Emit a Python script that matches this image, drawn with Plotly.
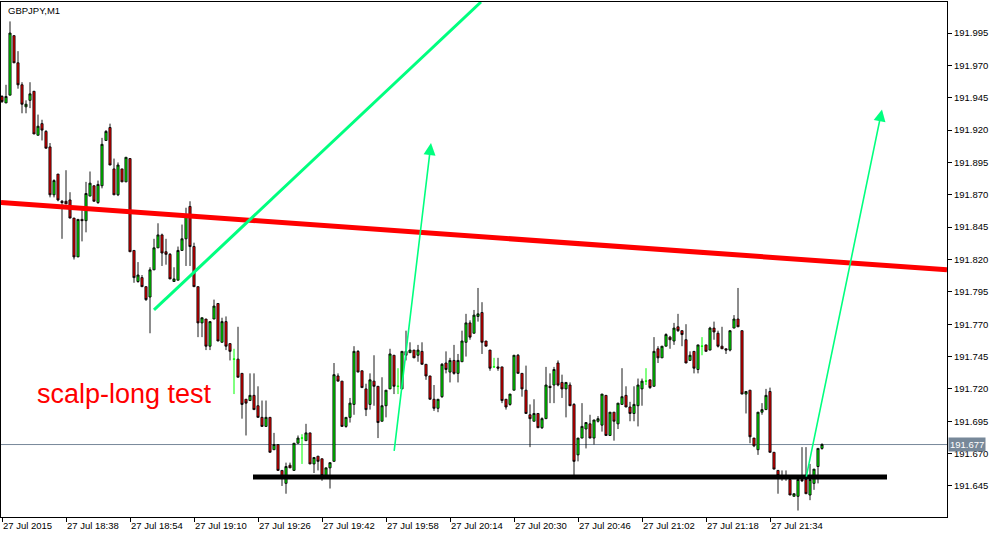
import plotly.graph_objects as go
import pandas as pd

symbol_title = "GBPJPY,M1"
start_time = "2015-07-27 18:22"

open_ = [191.946, 191.941, 191.947, 191.993, 191.972, 191.955, 191.938, 191.943, 191.950, 191.916,
         191.925, 191.919, 191.907, 191.870, 191.886, 191.865, 191.865, 191.866, 191.852, 191.822,
         191.851, 191.850, 191.869, 191.877, 191.864, 191.877, 191.912, 191.922, 191.890, 191.870,
         191.890, 191.880, 191.898, 191.827, 191.803, 191.806, 191.799, 191.791, 191.812, 191.829,
         191.839, 191.826, 191.824, 191.803, 191.804, 191.827, 191.836, 191.861, 191.830, 191.799,
         191.771, 191.774, 191.753, 191.774, 191.786, 191.756, 191.772, 191.755, 191.743, 191.743,
         191.732, 191.712, 191.711, 191.715, 191.707, 191.698, 191.691, 191.698, 191.673, 191.677,
         191.657, 191.647, 191.661, 191.657, 191.678, 191.682, 191.680, 191.686, 191.662, 191.668,
         191.666, 191.653, 191.659, 191.664, 191.730, 191.726, 191.691, 191.698, 191.708, 191.749,
         191.734, 191.720, 191.708, 191.726, 191.722, 191.695, 191.707, 191.720, 191.746, 191.722,
         191.720, 191.749, 191.748, 191.750, 191.746, 191.749, 191.739, 191.730, 191.712, 191.705,
         191.714, 191.740, 191.733, 191.742, 191.732, 191.741, 191.756, 191.771, 191.763, 191.776,
         191.779, 191.757, 191.750, 191.737, 191.737, 191.737, 191.712, 191.708, 191.719, 191.746,
         191.732, 191.719, 191.700, 191.695, 191.701, 191.690, 191.697, 191.722, 191.723, 191.740,
         191.725, 191.720, 191.723, 191.708, 191.669, 191.682, 191.689, 191.693, 191.682, 191.695,
         191.692, 191.715, 191.684, 191.702, 191.693, 191.708, 191.715, 191.706, 191.701, 191.707,
         191.720, 191.726, 191.727, 191.722, 191.751, 191.744, 191.753, 191.760, 191.757, 191.768,
         191.765, 191.758, 191.742, 191.749, 191.735, 191.753, 191.754, 191.750, 191.767, 191.763,
         191.753, 191.751, 191.750, 191.767, 191.774, 191.765, 191.716, 191.719, 191.682, 191.673,
         191.702, 191.704, 191.718, 191.671, 191.657, 191.653, 191.652, 191.650, 191.637, 191.637,
         191.650, 191.650, 191.638, 191.647, 191.660, 191.674]

high = [191.947, 191.955, 192.004, 191.993, 191.981, 191.957, 191.943, 191.957, 191.950, 191.932,
        191.928, 191.920, 191.910, 191.882, 191.886, 191.866, 191.889, 191.872, 191.852, 191.851,
        191.858, 191.880, 191.888, 191.877, 191.881, 191.914, 191.920, 191.925, 191.898, 191.895,
        191.890, 191.899, 191.898, 191.827, 191.818, 191.808, 191.799, 191.814, 191.836, 191.848,
        191.840, 191.836, 191.825, 191.814, 191.830, 191.847, 191.860, 191.865, 191.833, 191.799,
        191.775, 191.774, 191.772, 191.789, 191.786, 191.775, 191.776, 191.755, 191.751, 191.768,
        191.732, 191.712, 191.732, 191.732, 191.722, 191.711, 191.711, 191.698, 191.686, 191.677,
        191.657, 191.663, 191.663, 191.678, 191.684, 191.685, 191.693, 191.686, 191.667, 191.668,
        191.666, 191.659, 191.663, 191.740, 191.732, 191.726, 191.698, 191.713, 191.753, 191.750,
        191.734, 191.724, 191.732, 191.746, 191.722, 191.729, 191.719, 191.751, 191.746, 191.736,
        191.749, 191.765, 191.756, 191.750, 191.754, 191.756, 191.739, 191.730, 191.723, 191.712,
        191.740, 191.749, 191.744, 191.754, 191.747, 191.765, 191.778, 191.773, 191.781, 191.798,
        191.787, 191.757, 191.750, 191.744, 191.744, 191.737, 191.712, 191.716, 191.746, 191.747,
        191.732, 191.738, 191.708, 191.712, 191.701, 191.698, 191.737, 191.732, 191.737, 191.742,
        191.731, 191.725, 191.725, 191.709, 191.682, 191.709, 191.694, 191.700, 191.696, 191.699,
        191.716, 191.715, 191.702, 191.702, 191.709, 191.736, 191.722, 191.710, 191.722, 191.728,
        191.728, 191.736, 191.727, 191.760, 191.753, 191.753, 191.763, 191.761, 191.771, 191.778,
        191.765, 191.770, 191.749, 191.749, 191.754, 191.760, 191.754, 191.768, 191.772, 191.765,
        191.768, 191.751, 191.765, 191.777, 191.798, 191.765, 191.718, 191.719, 191.682, 191.702,
        191.709, 191.720, 191.721, 191.671, 191.657, 191.657, 191.657, 191.650, 191.639, 191.650,
        191.675, 191.675, 191.662, 191.658, 191.674, 191.678]

low = [191.941, 191.941, 191.947, 191.972, 191.952, 191.933, 191.933, 191.937, 191.917, 191.916,
       191.912, 191.906, 191.868, 191.868, 191.865, 191.836, 191.863, 191.852, 191.820, 191.822,
       191.834, 191.841, 191.869, 191.865, 191.863, 191.875, 191.912, 191.893, 191.870, 191.869,
       191.880, 191.880, 191.826, 191.802, 191.802, 191.799, 191.788, 191.763, 191.812, 191.829,
       191.815, 191.816, 191.805, 191.803, 191.804, 191.827, 191.815, 191.815, 191.799, 191.760,
       191.760, 191.750, 191.750, 191.774, 191.757, 191.756, 191.750, 191.742, 191.716, 191.729,
       191.697, 191.684, 191.711, 191.704, 191.698, 191.691, 191.691, 191.671, 191.673, 191.657,
       191.645, 191.639, 191.659, 191.657, 191.678, 191.662, 191.680, 191.662, 191.655, 191.657,
       191.649, 191.653, 191.643, 191.664, 191.726, 191.691, 191.690, 191.694, 191.700, 191.733,
       191.721, 191.699, 191.704, 191.707, 191.682, 191.695, 191.698, 191.720, 191.716, 191.716,
       191.720, 191.742, 191.748, 191.744, 191.741, 191.739, 191.727, 191.712, 191.703, 191.702,
       191.713, 191.732, 191.725, 191.731, 191.725, 191.741, 191.745, 191.758, 191.763, 191.772,
       191.747, 191.753, 191.734, 191.737, 191.734, 191.709, 191.704, 191.707, 191.719, 191.732,
       191.714, 191.701, 191.675, 191.695, 191.690, 191.689, 191.697, 191.709, 191.709, 191.722,
       191.713, 191.698, 191.707, 191.653, 191.664, 191.682, 191.674, 191.682, 191.677, 191.694,
       191.687, 191.684, 191.684, 191.680, 191.689, 191.708, 191.706, 191.695, 191.695, 191.691,
       191.707, 191.723, 191.720, 191.722, 191.740, 191.744, 191.753, 191.751, 191.754, 191.764,
       191.753, 191.740, 191.742, 191.732, 191.732, 191.746, 191.749, 191.750, 191.758, 191.752,
       191.751, 191.747, 191.749, 191.767, 191.768, 191.716, 191.701, 191.678, 191.675, 191.669,
       191.700, 191.704, 191.671, 191.658, 191.639, 191.649, 191.649, 191.638, 191.637, 191.626,
       191.648, 191.639, 191.634, 191.642, 191.647, 191.673]

close = [191.942, 191.946, 191.995, 191.972, 191.955, 191.940, 191.940, 191.948, 191.917, 191.923,
         191.920, 191.906, 191.870, 191.881, 191.866, 191.864, 191.863, 191.852, 191.822, 191.851,
         191.850, 191.871, 191.879, 191.865, 191.878, 191.909, 191.919, 191.893, 191.870, 191.893,
         191.880, 191.899, 191.826, 191.806, 191.808, 191.799, 191.789, 191.812, 191.829, 191.839,
         191.825, 191.824, 191.805, 191.805, 191.827, 191.836, 191.854, 191.830, 191.799, 191.771,
         191.775, 191.753, 191.772, 191.784, 191.757, 191.772, 191.753, 191.749, 191.743, 191.729,
         191.708, 191.709, 191.715, 191.704, 191.698, 191.691, 191.698, 191.671, 191.677, 191.657,
         191.652, 191.660, 191.659, 191.678, 191.682, 191.682, 191.686, 191.662, 191.667, 191.664,
         191.653, 191.659, 191.663, 191.731, 191.726, 191.691, 191.698, 191.709, 191.749, 191.733,
         191.721, 191.704, 191.727, 191.722, 191.694, 191.707, 191.719, 191.747, 191.722, 191.722,
         191.749, 191.746, 191.750, 191.744, 191.750, 191.739, 191.730, 191.712, 191.705, 191.712,
         191.739, 191.735, 191.742, 191.732, 191.742, 191.757, 191.771, 191.760, 191.777, 191.778,
         191.756, 191.753, 191.736, 191.737, 191.736, 191.711, 191.706, 191.716, 191.746, 191.732,
         191.720, 191.701, 191.697, 191.701, 191.690, 191.697, 191.723, 191.721, 191.735, 191.723,
         191.720, 191.725, 191.707, 191.664, 191.682, 191.691, 191.694, 191.682, 191.696, 191.697,
         191.716, 191.684, 191.702, 191.695, 191.709, 191.714, 191.706, 191.701, 191.708, 191.723,
         191.726, 191.726, 191.721, 191.749, 191.744, 191.753, 191.762, 191.758, 191.767, 191.765,
         191.762, 191.740, 191.746, 191.736, 191.754, 191.753, 191.749, 191.767, 191.764, 191.753,
         191.751, 191.750, 191.765, 191.774, 191.768, 191.716, 191.718, 191.683, 191.676, 191.702,
         191.704, 191.715, 191.671, 191.658, 191.653, 191.652, 191.653, 191.638, 191.639, 191.650,
         191.649, 191.639, 191.650, 191.658, 191.674, 191.677]

tick_times = ["2015-07-27 18:22", "2015-07-27 18:38", "2015-07-27 18:54", "2015-07-27 19:10",
              "2015-07-27 19:26", "2015-07-27 19:42", "2015-07-27 19:58", "2015-07-27 20:14",
              "2015-07-27 20:30", "2015-07-27 20:46", "2015-07-27 21:02", "2015-07-27 21:18",
              "2015-07-27 21:34"]
tick_labels = ["27 Jul 2015", "27 Jul 18:38", "27 Jul 18:54", "27 Jul 19:10", "27 Jul 19:26",
               "27 Jul 19:42", "27 Jul 19:58", "27 Jul 20:14", "27 Jul 20:30", "27 Jul 20:46",
               "27 Jul 21:02", "27 Jul 21:18", "27 Jul 21:34"]
price_ticks = [191.645, 191.670, 191.695, 191.720, 191.745, 191.770, 191.795, 191.820,
               191.845, 191.870, 191.895, 191.920, 191.945, 191.970, 191.995]

x_range = ["2015-07-27 18:21:45", "2015-07-27 22:18:15"]
y_range = [191.621, 192.019]

bid_price = 191.677
support_times = ["2015-07-27 19:24:45", "2015-07-27 22:03:15"]
support_prices = [191.652, 191.652]
resistance_times = ["2015-07-27 18:21:45", "2015-07-27 22:18:15"]
resistance_prices = [191.864, 191.812]
trend_times = ["2015-07-27 19:00", "2015-07-27 20:21:45"]
trend_prices = [191.781, 192.019]
arrow1_times = ["2015-07-27 20:00", "2015-07-27 20:09:15"]
arrow1_prices = [191.671, 191.910]
arrow2_times = ["2015-07-27 21:43", "2015-07-27 22:02"]
arrow2_prices = [191.651, 191.936]
label_text = "scalp-long test"
label_time = "2015-07-27 18:30:15"
label_price = 191.716

FONT = "Liberation Sans, Arial, sans-serif"

df = pd.DataFrame({"open": open_, "high": high, "low": low, "close": close})
df["time"] = pd.date_range(start_time, periods=len(df), freq="min")

bull = df[df.close > df.open]
bear = df[df.close < df.open]
doji = df[df.close == df.open]

fig = go.Figure()
fig.add_trace(go.Candlestick(
    x=bull.time, open=bull.open, high=bull.high, low=bull.low, close=bull.close,
    increasing=dict(fillcolor="#00ff00", line=dict(color="black", width=0.9)),
    decreasing=dict(fillcolor="#00ff00", line=dict(color="black", width=0.9)),
    hoverinfo="skip"))
fig.add_trace(go.Candlestick(
    x=bear.time, open=bear.open, high=bear.high, low=bear.low, close=bear.close,
    increasing=dict(fillcolor="#ff0000", line=dict(color="black", width=0.9)),
    decreasing=dict(fillcolor="#ff0000", line=dict(color="black", width=0.9)),
    hoverinfo="skip"))
fig.add_trace(go.Candlestick(
    x=doji.time, open=doji.open, high=doji.high, low=doji.low, close=doji.close,
    increasing=dict(fillcolor="#00ff00", line=dict(color="#00ff00", width=1)),
    decreasing=dict(fillcolor="#00ff00", line=dict(color="#00ff00", width=1)),
    hoverinfo="skip"))

shapes = [
    dict(type="line", xref="paper", x0=0, x1=1, yref="y", y0=bid_price, y1=bid_price,
         line=dict(color="#778899", width=1), layer="below"),
    dict(type="line", xref="x", yref="y", x0=resistance_times[0], x1=resistance_times[1],
         y0=resistance_prices[0], y1=resistance_prices[1], line=dict(color="#ff0000", width=5)),
    dict(type="line", xref="x", yref="y", x0=support_times[0], x1=support_times[1],
         y0=support_prices[0], y1=support_prices[1], line=dict(color="#000000", width=5)),
    dict(type="line", xref="x", yref="y", x0=trend_times[0], x1=trend_times[1],
         y0=trend_prices[0], y1=trend_prices[1], line=dict(color="#00ff7f", width=3)),
]

annotations = []
for t, p in [(arrow1_times, arrow1_prices), (arrow2_times, arrow2_prices)]:
    annotations.append(dict(
        x=t[1], y=p[1], ax=t[0], ay=p[0], xref="x", yref="y", axref="x", ayref="y",
        text="", showarrow=True, arrowhead=2, arrowsize=1.5, arrowwidth=1.6,
        arrowcolor="#00ff7f", standoff=0))
annotations.append(dict(
    x=label_time, y=label_price, xref="x", yref="y", text=label_text, showarrow=False,
    xanchor="left", yanchor="middle", font=dict(family=FONT, size=27, color="#ff0000")))
annotations.append(dict(
    x=0.005, y=1, xref="paper", yref="paper", text=symbol_title, showarrow=False,
    xanchor="left", yanchor="top", yshift=-1, font=dict(family=FONT, size=9.5, color="black")))
annotations.append(dict(
    x=1, y=bid_price, xref="paper", yref="y", text=f"{bid_price:.3f}", showarrow=False,
    xanchor="left", yanchor="middle", xshift=1, bgcolor="#778899", borderpad=1,
    font=dict(family=FONT, size=9.5, color="white")))

fig.update_layout(
    width=1001, height=538,
    margin=dict(l=1, r=54, t=2, b=21),
    paper_bgcolor="white", plot_bgcolor="white",
    showlegend=False,
    boxgap=0.25,
    shapes=shapes, annotations=annotations,
    xaxis=dict(type="date", range=x_range, tickvals=tick_times, ticktext=tick_labels,
               ticks="outside", ticklen=4, tickcolor="black", tickwidth=1,
               ticklabelposition="outside right",
               showline=True, linecolor="black", linewidth=1, mirror=True,
               showgrid=False, zeroline=False, rangeslider=dict(visible=False),
               tickfont=dict(family=FONT, size=9.5, color="black")),
    yaxis=dict(range=y_range, side="right", tickvals=price_ticks, tickformat=".3f",
               ticks="outside", ticklen=4, tickcolor="black", tickwidth=1,
               showline=True, linecolor="black", linewidth=1, mirror=True,
               showgrid=False, zeroline=False,
               tickfont=dict(family=FONT, size=9.5, color="black")),
)

fig.write_html("out.html", config={"displayModeBar": False},
               post_script="document.body.style.margin='0';")
